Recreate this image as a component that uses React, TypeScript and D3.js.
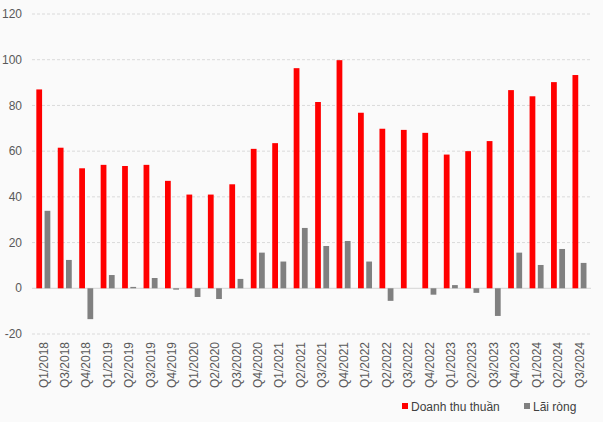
import React from 'react'
import * as d3 from 'd3'

// quarterly figures
const quarters = [
  'Q1/2018', 'Q3/2018', 'Q4/2018', 'Q1/2019', 'Q2/2019', 'Q3/2019', 'Q4/2019',
  'Q1/2020', 'Q2/2020', 'Q3/2020', 'Q4/2020', 'Q1/2021', 'Q2/2021', 'Q3/2021',
  'Q4/2021', 'Q1/2022', 'Q2/2022', 'Q3/2022', 'Q4/2022', 'Q1/2023', 'Q2/2023',
  'Q3/2023', 'Q4/2023', 'Q1/2024', 'Q2/2024', 'Q3/2024',
]
const revenue = [
  87, 61.5, 52.5, 54, 53.5, 54, 47, 41, 41, 45.5, 61, 63.5, 96.3, 81.5, 99.8,
  76.8, 69.8, 69.3, 68, 58.5, 60, 64.4, 86.7, 84, 90.2, 93.3,
]
const profit = [
  33.9, 12.4, -13.5, 5.8, 0.6, 4.5, -0.6, -3.8, -4.7, 4.1, 15.6, 11.7, 26.4,
  18.5, 20.7, 11.7, -5.5, 0, -2.8, 1.4, -2, -12.1, 15.6, 10.2, 17.2, 11.1,
]
const yTicks = [-20, 0, 20, 40, 60, 80, 100, 120]
const seriesNames = ['Doanh thu thuần', 'Lãi ròng']
const colors = ['#ff0000', '#808080']

const W = 603
const H = 422

export default function App() {
  const x = d3.scaleBand().domain(quarters).range([32.6, 590.2])
  const bw = x.bandwidth()
  const inner = d3
    .scaleBand()
    .domain(['rev', 'profit'])
    .range([bw / 2 - 7, bw / 2 + 7])
    .paddingInner(0.3)
  const y = d3.scaleLinear().domain([-20, 120]).range([334, 14])
  const font = 'Arial, "Liberation Sans", sans-serif'

  const bar = (q: string, v: number, key: string, i: number) => (
    <rect
      key={key + q}
      x={(x(q) as number) + (inner(key) as number)}
      y={y(Math.max(0, v))}
      width={inner.bandwidth()}
      height={Math.abs(y(v) - y(0))}
      fill={colors[i]}
    />
  )

  return (
    <div style={{position: 'fixed', left: 0, top: 0}}>
      <svg width={W} height={H} style={{display: 'block', background: '#fafafa'}}>
        {/* grid */}
        {yTicks.map(t => (
          <line
            key={'g' + t}
            x1={32}
            x2={591}
            y1={y(t)}
            y2={y(t)}
            stroke={t === 0 ? '#d4d4d4' : '#dadada'}
            strokeWidth={1}
            strokeDasharray={t === 0 ? undefined : '3,2'}
          />
        ))}
        {yTicks.map(t => (
          <text
            key={'yt' + t}
            x={22}
            y={y(t)}
            dy="0.35em"
            textAnchor="end"
            fontFamily={font}
            fontSize={12}
            fill="#595959">
            {t}
          </text>
        ))}

        {quarters.map((q, i) => bar(q, revenue[i], 'rev', 0))}
        {quarters.map((q, i) => bar(q, profit[i], 'profit', 1))}

        {quarters.map(q => {
          const cx = (x(q) as number) + bw / 2
          return (
            <text
              key={'xl' + q}
              transform={`translate(${cx},342) rotate(-90)`}
              dy="0.35em"
              textAnchor="end"
              fontFamily={font}
              fontSize={12}
              fill="#595959">
              {q}
            </text>
          )
        })}

        {/* legend */}
        <rect x={402} y={403} width={6} height={6} fill={colors[0]} />
        <text x={411} y={410.5} fontFamily={font} fontSize={12} fill="#404040">
          {seriesNames[0]}
        </text>
        <rect x={524} y={403} width={6} height={6} fill={colors[1]} />
        <text x={533} y={410.5} fontFamily={font} fontSize={12} fill="#404040">
          {seriesNames[1]}
        </text>
      </svg>
    </div>
  )
}
